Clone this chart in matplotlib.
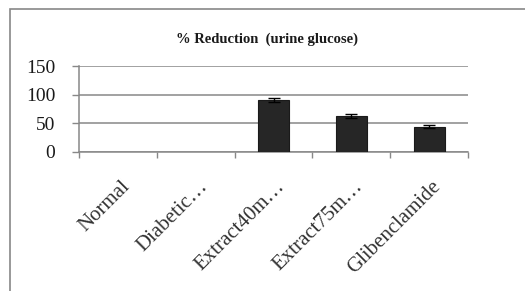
from matplotlib import pyplot as plt
from matplotlib.patches import Rectangle
import numpy as np

groups = ['Normal', 'Diabetic\u2026', 'Extract40m\u2026', 'Extract75m\u2026', 'Glibenclamide']
reduction = [0, 0, 91, 62, 44]
errors = [0, 0, 4, 3.5, 2.5]
yticks = [0, 50, 100, 150]

grid_col = '#888888'
bar_col = '#262626'

plt.rcParams['font.family'] = ['Liberation Serif', 'DejaVu Serif']

fig = plt.figure(figsize=(5.25, 2.91), dpi=100)
fig.patches.append(Rectangle((10 / 525, -0.1), 1.2, 1.1 - 9 / 291, transform=fig.transFigure,
                             fill=False, edgecolor=grid_col, linewidth=1.2))

ax = fig.add_axes([79 / 525, 1 - 152 / 291, (468 - 79) / 525, (152 - 66) / 291])
x = np.arange(len(groups))
has = [i for i, v in enumerate(reduction) if v > 0]
ax.bar(x[has], [reduction[i] for i in has], width=0.4, color=bar_col,
       edgecolor='#1a1a1a', linewidth=0.8, zorder=3)
ax.errorbar(x[has], [reduction[i] for i in has], yerr=[errors[i] for i in has],
            fmt='none', ecolor='black', elinewidth=1, capsize=4.5, capthick=1, zorder=4)

ax.set_xlim(-0.5, len(groups) - 0.5)
ax.set_ylim(0, 150)
ax.set_yticks(yticks)
ax.yaxis.grid(True, color=grid_col, linewidth=1.1, zorder=0)
ax.set_axisbelow(True)

# category boundaries get the tick marks
ax.set_xticks(np.arange(len(groups) + 1) - 0.5, minor=False)
ax.set_xticklabels([])
ax.set_xticks(x + 0.03, minor=True)
ax.set_xticklabels(groups, minor=True, rotation=45, ha='right', va='top',
                   rotation_mode='anchor', fontsize=15, color='#333333')
ax.tick_params(axis='x', which='minor', length=0, pad=18)
ax.tick_params(axis='x', which='major', length=4.5, color=grid_col, width=1)
ax.tick_params(axis='y', length=5, color=grid_col, width=1, labelsize=14, pad=12,
               labelcolor='#1a1a1a')

for side in ['top', 'right']:
    ax.spines[side].set_visible(False)
for side in ['left', 'bottom']:
    ax.spines[side].set_color(grid_col)
    ax.spines[side].set_linewidth(1.1)

fig.text(267 / 525, 1 - 39 / 291, '% Reduction  (urine glucose)', ha='center', va='center',
         fontsize=10.5, fontweight='bold', family=['Liberation Serif'], color='#1a1a1a')

fig.savefig('out.png', dpi=100)
